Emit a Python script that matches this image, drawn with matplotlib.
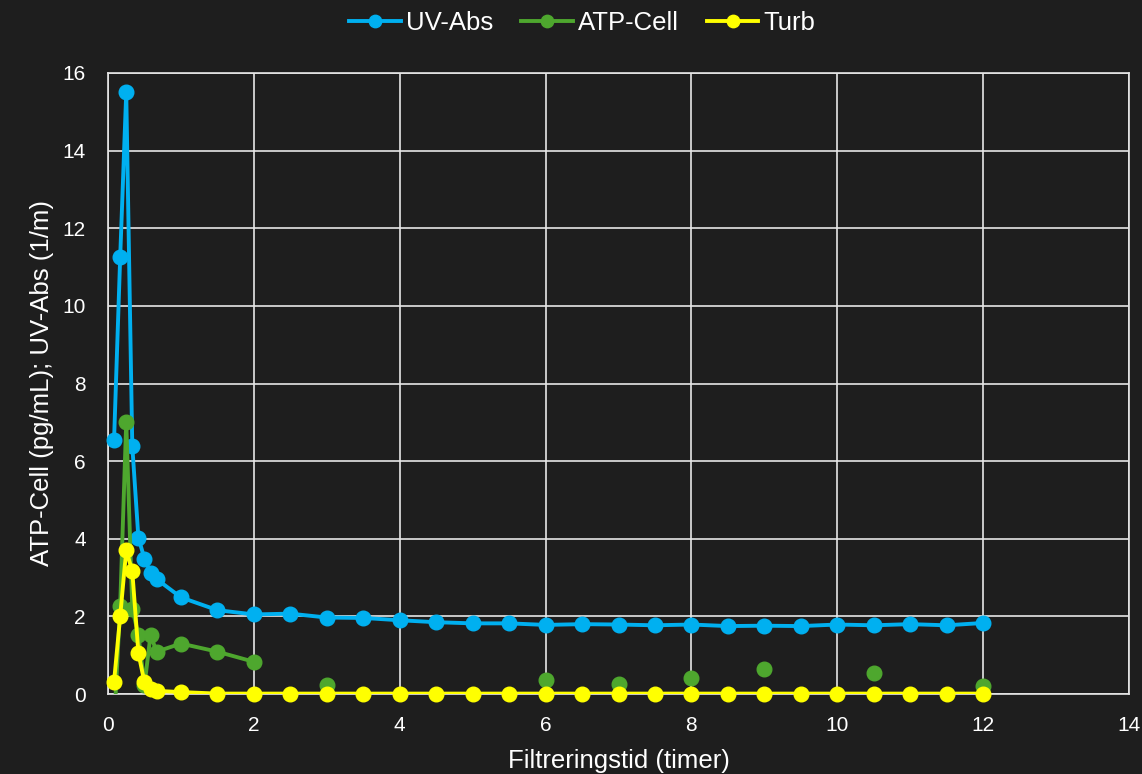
import numpy as np
import matplotlib.pyplot as plt

plt.rcParams['font.family'] = ['Liberation Sans', 'DejaVu Sans']

# Filtreringstid (timer)
t = [0.083, 0.167, 0.25, 0.333, 0.417, 0.5, 0.583, 0.667, 1.0, 1.5, 2.0, 2.5, 3.0, 3.5,
     4.0, 4.5, 5.0, 5.5, 6.0, 6.5, 7.0, 7.5, 8.0, 8.5, 9.0, 9.5, 10.0, 10.5, 11.0, 11.5, 12.0]

uv_abs = [6.54, 11.25, 15.5, 6.39, 4.02, 3.49, 3.13, 2.96, 2.49, 2.16, 2.05, 2.07, 1.97, 1.96,
          1.90, 1.85, 1.82, 1.82, 1.78, 1.80, 1.79, 1.77, 1.79, 1.75, 1.76, 1.75, 1.79, 1.77, 1.80, 1.77, 1.83]

nan = np.nan
atp_cell = [-0.8, 2.27, 7.02, 2.2, 1.52, 0.22, 1.52, 1.09, 1.30, 1.09, 0.83, nan, 0.23, nan,
            nan, nan, nan, nan, 0.36, nan, 0.26, nan, 0.41, nan, 0.64, nan, nan, 0.54, nan, nan, 0.2]

turb = [0.32, 2.0, 3.71, 3.16, 1.05, 0.30, 0.12, 0.08, 0.05, 0.01, 0.01, 0.01, 0.01, 0.01,
        0.01, 0.01, 0.01, 0.01, 0.01, 0.01, 0.01, 0.01, 0.01, 0.01, 0.01, 0.01, 0.01, 0.01, 0.01, 0.01, 0.01]

bg = '#1e1e1e'
fg = '#ffffff'

fig = plt.figure(figsize=(11.42, 7.74), dpi=100, facecolor=bg)
ax = fig.add_axes([108/1142, 1-694/774, (1129-108)/1142, (694-73)/774])
ax.set_facecolor(bg)

series = [(uv_abs, '#00b0f0', 'UV-Abs'), (atp_cell, '#4ea72e', 'ATP-Cell'), (turb, '#ffff00', 'Turb')]
for i, (vals, c, name) in enumerate(series):
    y = np.array(vals, dtype=float)
    # linja klippes ved aksen, punktene tegnes hele
    ax.plot(t, y, '-', color=c, lw=2.8, zorder=3 + i)
    ym = np.where(y < 0, np.nan, y)
    ax.plot(t, ym, 'o', color=c, ms=10.5, clip_on=False, zorder=3 + i)
    ax.plot([], [], '-o', color=c, lw=2.8, ms=10.5, label=name)

ax.set_xlim(0, 14)
ax.set_ylim(0, 16)
ax.set_xticks(range(0, 15, 2))
ax.set_yticks(range(0, 17, 2))
ax.grid(True, color='#e6e6e6', lw=1.2)
ax.set_axisbelow(True)
for s in ax.spines.values():
    s.set_color('#e6e6e6')
    s.set_linewidth(1.2)
ax.tick_params(colors=fg, labelsize=15, length=0)
ax.tick_params(axis='x', pad=16)
ax.tick_params(axis='y', pad=16)

ax.set_xlabel('Filtreringstid (timer)', color=fg, fontsize=18.5, labelpad=10)
ax.set_ylabel('ATP-Cell (pg/mL); UV-Abs (1/m)', color=fg, fontsize=18.5, labelpad=6)

leg = ax.legend(loc='center', bbox_to_anchor=(0.4645, 1.08), ncol=3, frameon=False,
                fontsize=18.5, labelcolor=fg, handlelength=2.0, handletextpad=0.2,
                columnspacing=1.1, markerscale=0.85)

fig.savefig('out.png', dpi=100, facecolor=bg)
